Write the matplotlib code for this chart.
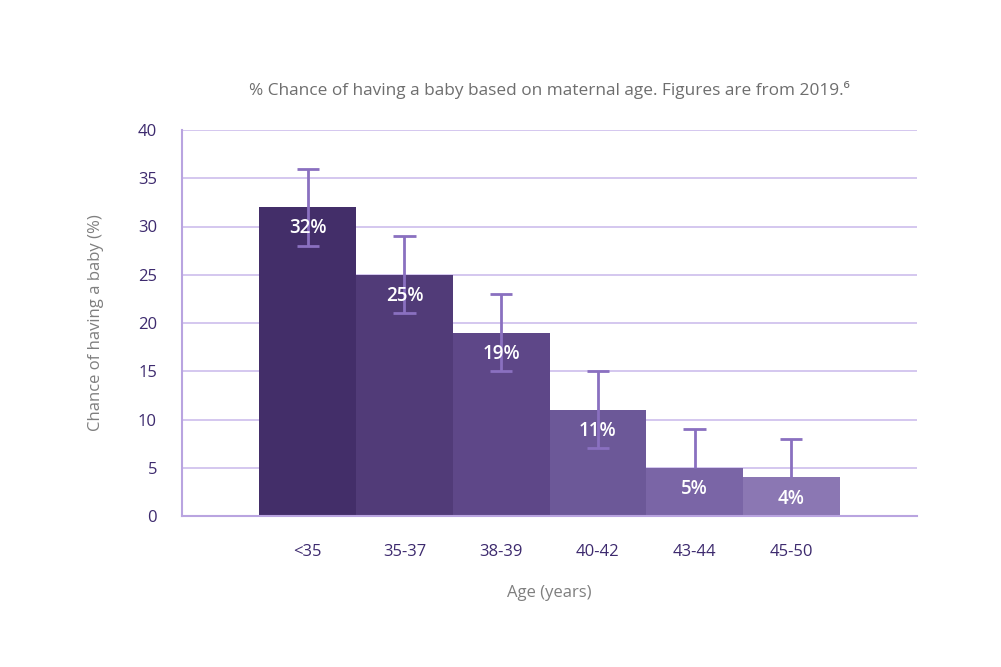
import matplotlib.pyplot as plt
import numpy as np

plt.rcParams['font.family'] = ['Open Sans', 'DejaVu Sans']

ages = ['<35', '35-37', '38-39', '40-42', '43-44', '45-50']
chance = [32, 25, 19, 11, 5, 4]
err_low = [4, 4, 4, 4, 0, 0]
err_high = [4, 4, 4, 4, 4, 4]
colors = ['#432e69', '#513b78', '#5e4788', '#6c5898', '#7a65a6', '#8b77b3']

fig = plt.figure(figsize=(10.01, 6.67), dpi=100)
ax = fig.add_axes([182/1001, 1-516/667, (917-182)/1001, (516-130)/667])

x = np.arange(len(ages))
ax.bar(x, chance, width=1.0, color=colors, zorder=2)

# error bars: caps only where the error is non-zero
lo = np.array(chance) - np.array(err_low)
hi = np.array(chance) + np.array(err_high)
ecol = '#8a70c0'
cap = 0.115
ax.vlines(x, lo, hi, color=ecol, linewidth=2, zorder=3)
ax.hlines(hi, x - cap, x + cap, color=ecol, linewidth=2, zorder=3)
has_low = np.array(err_low) > 0
ax.hlines(lo[has_low], x[has_low] - cap, x[has_low] + cap, color=ecol, linewidth=2, zorder=3)

for xi, v in zip(x, chance):
    ax.text(xi, v - 2.2, f'{v}%', ha='center', va='center', color='white',
            fontsize=13.5, fontweight='semibold', zorder=4)

ax.set_xlim(-1.3, 6.3)
ax.set_ylim(0, 40)
ax.set_yticks(np.arange(0, 41, 5))
ax.set_xticks(x)
ax.set_xticklabels(ages)
ax.yaxis.grid(True, color='#cdbdec', linewidth=1.2, zorder=0)
ax.set_axisbelow(True)

for s in ['top', 'right']:
    ax.spines[s].set_visible(False)
for s in ['left', 'bottom']:
    ax.spines[s].set_color('#b9a4e0')
    ax.spines[s].set_linewidth(1.5)
ax.spines['left'].set_zorder(5)
ax.spines['bottom'].set_zorder(5)

ax.tick_params(axis='both', length=0, labelcolor='#3d2a6e', labelsize=12)
ax.tick_params(axis='x', pad=20)
ax.tick_params(axis='y', pad=18)

ax.set_xlabel('Age (years)', color='#7f7f7f', fontsize=12, labelpad=18)
ax.set_ylabel('Chance of having a baby (%)', color='#7f7f7f', fontsize=12, labelpad=24)

fig.text(549.5/1001, 1-90/667, '% Chance of having a baby based on maternal age. Figures are from 2019.\u2076',
         ha='center', va='center', color='#6e6e6e', fontsize=12.4)

fig.savefig('out.png', dpi=100)
